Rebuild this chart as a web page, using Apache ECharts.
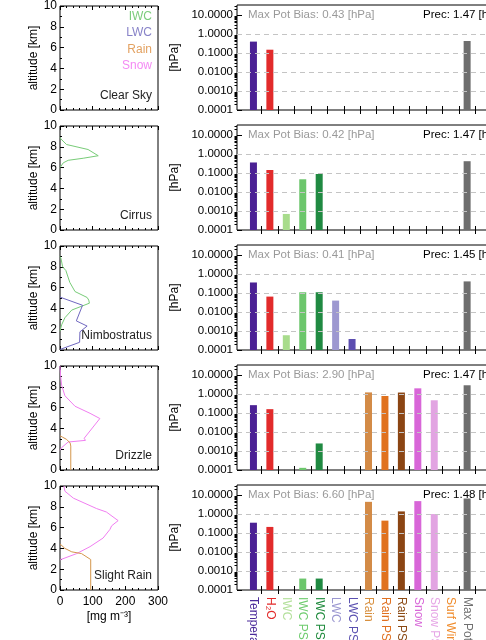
<!DOCTYPE html>
<html lang="en">
<head>
    <meta charset="UTF-8">
    <title>Bias per cloud scene</title>
    <script src="https://cdn.jsdelivr.net/npm/echarts@6.0.0/dist/echarts.min.js"></script>
    <style>
        html, body { margin: 0; padding: 0; background: #fff; }
    </style>
</head>
<body>
    <div id="myChart" style="width: 486px; height: 640px;"></div>
    <script>
        // 场景与类别
        const scenes = ['Clear Sky', 'Cirrus', 'Nimbostratus', 'Drizzle', 'Slight Rain'];
        const categories = ['Temperature', 'H₂O', 'IWC', 'IWC PSD', 'IWC PSD', 'LWC', 'LWC PSD',
            'Rain', 'Rain PSD', 'Rain PSD', 'Snow', 'Snow PSD', 'Surf Wind', 'Max Pot Bias'];
        const barColors = ['#4b2194', '#e22b2b', '#a8dc8c', '#6cc66c', '#208a42', '#9d98d0', '#5b4db0',
            '#d38b47', '#e0721f', '#8b4513', '#d866d8', '#e2a4e2', '#f28e2b', '#6e6e6e'];
        const labelColors = ['#4b2a9a', '#e22b2b', '#b4e09c', '#6fcc6f', '#1e8a3c', '#9a96d0', '#5a50b0',
            '#d8903f', '#e07020', '#8b4a14', '#d868d8', '#e6a6e6', '#f08c2c', '#707070'];

        const maxPotBias = [0.43, 0.42, 0.41, 2.90, 6.60];
        const prec = [1.47, 1.47, 1.45, 1.47, 1.48];

        // 偏差值 [hPa]，null 表示无柱
        const biasClearSky     = [0.40, 0.15, null, null, null, null, null, null, null, null, null, null, null, 0.43];
        const biasCirrus       = [0.36, 0.145, 0.0007, 0.047, 0.089, null, null, null, null, null, null, null, null, 0.42];
        const biasNimbostratus = [0.36, 0.065, 0.0006, 0.11, 0.11, 0.040, 0.00038, null, null, null, null, null, null, 0.41];
        const biasDrizzle      = [0.26, 0.16, null, 0.00013, 0.0025, null, null, 1.22, 0.79, 1.20, 2.0, 0.47, null, 2.90];
        const biasSlightRain   = [0.35, 0.21, null, 0.0004, 0.0004, null, null, 4.4, 0.45, 1.38, 4.8, 1.0, null, 6.60];
        const biasAll = [biasClearSky, biasCirrus, biasNimbostratus, biasDrizzle, biasSlightRain];

        // 廓线 [mg m-3, km]
        const iwcCirrus = [[0, 6.0], [3, 6.13], [10, 6.46], [25, 6.7], [71, 6.9], [117, 7.14],
            [86, 7.74], [20, 8.22], [3, 8.75], [0, 8.9]];
        const iwcNimbostratus = [[0, 1.8], [3, 1.92], [5, 2.42], [15, 3.1], [36, 3.84], [90, 4.5],
            [88, 4.8], [83, 5.05], [46, 5.62], [30, 6.5], [18, 7.64], [8, 8.0], [3, 8.8], [0, 9.0]];
        const lwcNimbostratus = [[0, 0.05], [3, 0.1], [5, 0.24], [60, 0.74], [61, 1.75], [83, 2.3], [50, 2.8],
            [69, 4.3], [66, 4.45], [3, 5.05], [0, 5.1]];
        const snowDrizzle = [[0, 1.9], [5, 2.15], [25, 2.69], [78, 2.85], [74, 3.05], [122, 4.95],
            [92, 5.45], [46, 6.13], [15, 7.14], [5, 8.15], [2, 9.0], [0, 10]];
        const rainDrizzle = [[33, 0], [33, 2.3], [31, 2.6], [20, 2.95], [8, 3.15], [0, 3.3]];
        const snowSlightRain = [[0, 2.9], [5, 3.0], [51, 3.5], [92, 4.17], [132, 5.0], [153, 5.83],
            [158, 6.17], [178, 6.67], [142, 7.5], [112, 7.83], [41, 8.83], [15, 9.5], [12, 10]];
        const rainSlightRain = [[94, 0], [94, 2.93], [66, 3.5], [36, 3.67], [15, 4.0], [0, 4.43]];

        const profileColors = { IWC: '#78cc78', LWC: '#6f67bf', Rain: '#d4964c', Snow: '#f07ef0' };
        const legendColors = { IWC: '#7ccc7c', LWC: '#8883c8', Rain: '#e3a262', Snow: '#f48af4' };
        const profiles = [
            [],
            [['IWC', iwcCirrus]],
            [['IWC', iwcNimbostratus], ['LWC', lwcNimbostratus]],
            [['Snow', snowDrizzle], ['Rain', rainDrizzle]],
            [['Snow', snowSlightRain], ['Rain', rainSlightRain]]
        ];

        // 对数轴：y' = log10(v) + 4，底部为 1e-4
        const LOGMIN = 4;
        const logMax = 5.53;
        const minorLog = [];
        for (let d = 0; d < 6; d++) {
            for (let k = 2; k <= 9; k++) {
                const v = d + Math.log10(k);
                if (v < logMax) minorLog.push(v);
            }
        }
        const catTicks = [];
        for (let i = 1; i <= 15; i++) catTicks.push(i + 0.5);
        const catPos = categories.map((c, i) => i + 1);

        const font = 'Liberation Sans, Arial, sans-serif';
        const grid = [], xAxis = [], yAxis = [], series = [], graphic = [];

        scenes.forEach(function (scene, r) {
            const off = 120 * r;
            const last = r === scenes.length - 1;

            // 左侧廓线面板
            const gl = grid.length;
            grid.push({ left: 60, top: 6 + off, width: 98, height: 104, show: true, borderColor: '#000', borderWidth: 1, outerBoundsMode: 'none' });
            const xl = xAxis.length;
            xAxis.push({
                type: 'value', gridIndex: gl, min: 0, max: 300, interval: 100, position: 'bottom',
                axisLine: { show: false }, splitLine: { show: false },
                axisTick: { inside: true, length: 4, lineStyle: { color: '#000' } },
                minorTick: { show: true, splitNumber: 5, length: 2, lineStyle: { color: '#000' } },
                axisLabel: { show: last, color: '#000', fontSize: 12, fontFamily: font, margin: 6 },
                name: last ? '[mg m⁻³]' : '', nameLocation: 'middle', nameGap: 21,
                nameTextStyle: { color: '#000', fontSize: 12, fontFamily: font }
            });
            xAxis.push({
                type: 'value', gridIndex: gl, min: 0, max: 300, interval: 100, position: 'top',
                axisLine: { show: false }, splitLine: { show: false }, axisLabel: { show: false },
                axisTick: { inside: true, length: 4, lineStyle: { color: '#000' } },
                minorTick: { show: true, splitNumber: 5, length: 2, lineStyle: { color: '#000' } }
            });
            const yl = yAxis.length;
            yAxis.push({
                type: 'value', gridIndex: gl, min: 0, max: 10, interval: 2,
                axisLine: { show: false }, splitLine: { show: false },
                axisTick: { inside: true, length: 4, lineStyle: { color: '#000' } },
                minorTick: { show: true, splitNumber: 2, length: 2, lineStyle: { color: '#000' } },
                axisLabel: { color: '#000', fontSize: 12, fontFamily: font, margin: 3 },
                name: 'altitude [km]', nameLocation: 'middle', nameGap: 20,
                nameTextStyle: { color: '#000', fontSize: 12, fontFamily: font }
            });
            profiles[r].forEach(function (p) {
                series.push({
                    type: 'line', xAxisIndex: xl, yAxisIndex: yl, data: p[1],
                    showSymbol: false, symbol: 'none', silent: true,
                    lineStyle: { color: profileColors[p[0]], width: 1 }
                });
            });
            graphic.push({
                type: 'text', right: 486 - 152, top: 90 + off,
                style: { text: scene, fill: '#222', font: '12px ' + font, textAlign: 'right' }
            });

            // 右侧偏差柱状图
            const gr = grid.length;
            grid.push({ left: 237, top: 5 + off, width: 263, height: 105, show: true, borderColor: '#000', borderWidth: 1, outerBoundsMode: 'none' });
            const xr = xAxis.length;
            xAxis.push({
                type: 'value', gridIndex: gr, min: 0, max: 16, position: 'bottom',
                axisLine: { show: false }, splitLine: { show: false },
                axisTick: { inside: true, length: 4, customValues: catTicks, lineStyle: { color: '#000' } },
                axisLabel: {
                    show: last, customValues: catPos, rotate: -90, margin: 7,
                    fontSize: 12, fontFamily: font,
                    formatter: v => categories[Math.round(v) - 1] || '',
                    color: v => labelColors[Math.round(v) - 1] || '#000'
                }
            });
            xAxis.push({
                type: 'value', gridIndex: gr, min: 0, max: 16, position: 'top',
                axisLine: { show: false }, splitLine: { show: false }, axisLabel: { show: false },
                axisTick: { inside: true, length: 4, customValues: catTicks, lineStyle: { color: '#000' } }
            });
            const yr = yAxis.length;
            yAxis.push({
                type: 'value', gridIndex: gr, min: 0, max: logMax, interval: 1,
                axisLine: { show: false }, splitLine: { show: false },
                axisTick: { inside: true, length: 5, customValues: [0, 1, 2, 3, 4, 5], lineStyle: { color: '#000' } },
                axisLabel: {
                    customValues: [0, 1, 2, 3, 4, 5], color: '#000', fontSize: 11.5, fontFamily: font, margin: 4,
                    formatter: v => Math.pow(10, v - LOGMIN).toFixed(4)
                },
                name: '[hPa]', nameLocation: 'middle', nameGap: 46,
                nameTextStyle: { color: '#000', fontSize: 12, fontFamily: font }
            });
            yAxis.push({
                type: 'value', gridIndex: gr, min: 0, max: logMax, interval: 1,
                axisLine: { show: false }, splitLine: { show: false }, axisLabel: { show: false },
                axisTick: { inside: true, length: 2.5, customValues: minorLog, lineStyle: { color: '#000' } }
            });
            const barData = [];
            biasAll[r].forEach(function (v, i) {
                if (v === null) return;
                barData.push({ value: [i + 1, Math.log10(v) + LOGMIN], itemStyle: { color: barColors[i] } });
            });
            series.push({
                type: 'bar', xAxisIndex: xr, yAxisIndex: yr, data: barData, barWidth: 7, silent: true,
                markLine: {
                    silent: true, symbol: ['none', 'none'], label: { show: false },
                    lineStyle: { color: '#c4c4c4', type: [5, 4], width: 1 },
                    data: [{ yAxis: 1 }, { yAxis: 2 }, { yAxis: 3 }, { yAxis: 4 }]
                }
            });
            graphic.push({
                type: 'text', left: 248, top: 9 + off,
                style: { text: 'Max Pot Bias: ' + maxPotBias[r].toFixed(2) + ' [hPa]', fill: '#9a9a9a', font: '11.5px ' + font }
            });
            graphic.push({
                type: 'text', left: 423, top: 9 + off,
                style: { text: 'Prec: ' + prec[r].toFixed(2) + ' [hPa]', fill: '#000', font: '11.5px ' + font }
            });
        });

        // 图例文字（第一幅）
        ['IWC', 'LWC', 'Rain', 'Snow'].forEach(function (name, i) {
            graphic.push({
                type: 'text', right: 486 - 152, top: 10.5 + 16.4 * i,
                style: { text: name, fill: legendColors[name], font: '12px ' + font, textAlign: 'right' }
            });
        });

        const myChart = echarts.init(document.getElementById('myChart'));
        const option = {
            animation: false,
            backgroundColor: '#fff',
            grid: grid,
            xAxis: xAxis,
            yAxis: yAxis,
            series: series,
            graphic: graphic
        };
        myChart.setOption(option);
    </script>
</body>
</html>
